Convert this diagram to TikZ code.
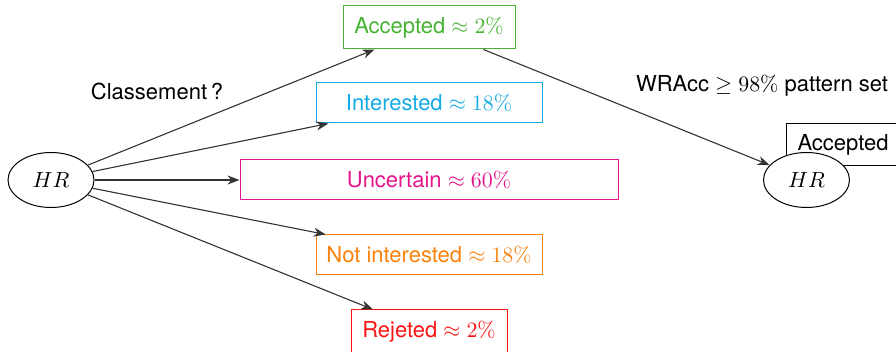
\documentclass[tikz,border=0pt]{standalone}
\usepackage[no-math]{fontspec}
\setmainfont{TeX Gyre Heros}
\usepackage{amsmath,amssymb}
\usetikzlibrary{positioning,arrows.meta,shapes.geometric}
\definecolor{accgreen}{RGB}{70,180,50}
\definecolor{intcyan}{RGB}{20,170,230}
\definecolor{uncmag}{RGB}{230,20,140}
\definecolor{nintorange}{RGB}{250,130,10}
\definecolor{rejred}{RGB}{255,20,20}

\begin{document}
\begin{tikzpicture}[
  font=\fontsize{11}{13}\selectfont,
  box/.style={draw,line width=0.5pt,minimum height=20pt,align=center,inner sep=3pt},
  hrnode/.style={draw,ellipse,fill=white,line width=0.5pt,minimum width=43pt,minimum height=27.5pt},
  arr/.style={-{Stealth[scale=1.1]},draw=black!80,line width=0.55pt},
  x=0.5pt,y=-0.5pt]
\useasboundingbox (0,0) rectangle (896,352);
\node[hrnode] (hr) at (51,180) {$HR$};
\node[box,draw=accgreen,text=accgreen,minimum width=86pt,minimum height=21.5pt] (acc) at (429,27.5) {Accepted $\approx 2\%$};
\node[box,draw=intcyan,text=intcyan,minimum width=113pt] (int) at (429,103) {Interested $\approx 18\%$};
\node[box,draw=uncmag,text=uncmag,minimum width=189pt] (unc) at (429,180) {Uncertain $\approx 60\%$};
\node[box,draw=nintorange,text=nintorange,minimum width=113pt] (nint) at (429,255) {Not interested $\approx 18\%$};
\node[box,draw=rejred,text=rejred,minimum width=78pt,minimum height=22pt] (rej) at (429,332) {Rejeted $\approx 2\%$};
\node (cls) at (157,91) {Classement\,?};
\node (wra) at (762,86) {WRAcc $\geq 98\%$ pattern set};
% right side
\node[draw,line width=0.5pt,anchor=north west,minimum height=21pt,text width=80pt,inner xsep=5.5pt] (accb) at (786,123) {Accepted};
\node[hrnode] (hrb) at (806.5,180) {$HR$};
\draw[arr] (hr)--(acc);
\draw[arr] (hr)--(int);
\draw[arr] (hr)--(unc);
\draw[arr] (hr)--(nint);
\draw[arr] (hr)--(rej);
\draw[arr] (acc)--(hrb);
\end{tikzpicture}
\end{document}
